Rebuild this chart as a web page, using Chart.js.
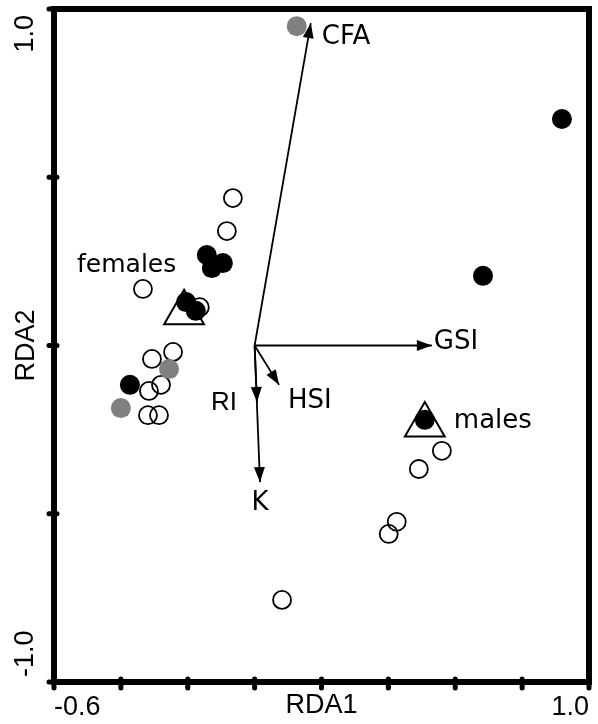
<!DOCTYPE html>
<html lang="en">
<head>
  <meta charset="UTF-8" />
  <title>RDA biplot</title>
  <script src="https://cdn.jsdelivr.net/npm/chart.js"></script>
  <style>
    body {
      margin: 0;
      background: #fff;
    }
    .chart-container {
      position: relative;
      width: 598px;
      height: 724px;
    }
  </style>
</head>
<body>
  <div class="chart-container">
    <canvas id="rdaChart"></canvas>
  </div>

  <script>
    // Site scores (RDA1, RDA2)
    const openX = [-0.065, -0.083, -0.334, -0.164, -0.244, -0.307, -0.280, -0.316, -0.319, -0.286, 0.560, 0.491, 0.425, 0.401, 0.082];
    const openY = [0.438, 0.340, 0.168, 0.114, -0.019, -0.040, -0.117, -0.135, -0.207, -0.207, -0.313, -0.367, -0.524, -0.560, -0.756];
    const grayX = [0.126, -0.256, -0.400];
    const grayY = [0.949, -0.070, -0.186];
    const blackX = [0.919, 0.683, 0.509, -0.143, -0.128, -0.095, -0.205, -0.176, -0.373];
    const blackY = [0.673, 0.207, -0.221, 0.269, 0.230, 0.245, 0.129, 0.103, -0.117];

    // Group centroids
    const groupNames = ['females', 'males'];
    const groupX = [-0.211, 0.509];
    const groupY = [0.097, -0.236];

    // Explanatory variables (arrows)
    const vectorNames = ['CFA', 'GSI', 'HSI', 'RI', 'K'];
    const vectorX = [0.168, 0.530, 0.073, 0.007, 0.016];
    const vectorY = [0.958, 0.0, -0.117, -0.168, -0.406];

    // Axis ticks
    const xTicks = [-0.6, -0.4, -0.2, 0, 0.2, 0.4, 0.6, 0.8, 1.0];
    const xTickLabels = ['-0.6', '', '', '', '', '', '', '', '1.0'];
    const yTicks = [-1.0, -0.5, 0, 0.5, 1.0];
    const yTickLabels = ['-1.0', '', '', '', '1.0'];

    // label placement (pixels from the arrow tip / centroid)
    const labelStyle = {
      CFA: { dx: 11, dy: 21, align: 'left', font: '26px "DejaVu Sans"' },
      GSI: { dx: 2, dy: 3, align: 'left', font: '26px "DejaVu Sans"' },
      HSI: { dx: 9, dy: 23, align: 'left', font: '26px "DejaVu Sans"' },
      RI: { dx: -20, dy: 8, align: 'right', font: '26px "Liberation Sans"' },
      K: { dx: 0, dy: 28, align: 'center', font: '26px "DejaVu Sans"' },
      females: { dx: -107, dy: -41, align: 'left', font: '25px "DejaVu Sans"' },
      males: { dx: 29, dy: 3, align: 'left', font: '26px "DejaVu Sans"' }
    };

    const toPoints = (xs, ys) => xs.map((x, i) => ({ x: x, y: ys[i] }));

    const datasets = [];
    vectorNames.forEach((name, i) => {
      datasets.push({
        label: name,
        isVector: true,
        data: [{ x: 0, y: 0 }, { x: vectorX[i], y: vectorY[i] }],
        showLine: true,
        borderColor: '#000',
        borderWidth: 1.8,
        pointRadius: 0,
        order: 10
      });
    });
    datasets.push({
      label: 'centroids',
      isGroup: true,
      data: toPoints(groupX, groupY),
      pointStyle: 'triangle',
      pointRadius: 23,
      borderWidth: 2,
      borderColor: '#000',
      backgroundColor: 'rgba(0,0,0,0)',
      order: 9
    });
    datasets.push({
      label: 'open',
      data: toPoints(openX, openY),
      pointRadius: 9,
      borderWidth: 1.8,
      borderColor: '#000',
      backgroundColor: 'rgba(0,0,0,0)',
      order: 8
    });
    datasets.push({
      label: 'gray',
      data: toPoints(grayX, grayY),
      pointRadius: 10,
      borderWidth: 0,
      backgroundColor: '#808080',
      order: 7
    });
    datasets.push({
      label: 'black',
      data: toPoints(blackX, blackY),
      pointRadius: 10,
      borderWidth: 0,
      backgroundColor: '#000',
      order: 6
    });

    const annotate = {
      id: 'annotate',
      afterDatasetsDraw(chart) {
        const ctx = chart.ctx;
        ctx.save();
        ctx.fillStyle = '#000';
        ctx.textBaseline = 'alphabetic';
        chart.data.datasets.forEach((ds, i) => {
          const pts = chart.getDatasetMeta(i).data;
          if (ds.isVector) {
            const a = pts[0], b = pts[1];
            const ang = Math.atan2(b.y - a.y, b.x - a.x);
            ctx.save();
            ctx.translate(b.x, b.y);
            ctx.rotate(ang);
            ctx.beginPath();
            ctx.moveTo(0, 0);
            ctx.lineTo(-15, -5.5);
            ctx.lineTo(-15, 5.5);
            ctx.closePath();
            ctx.fill();
            ctx.restore();
            const s = labelStyle[ds.label];
            ctx.font = s.font;
            ctx.textAlign = s.align;
            ctx.fillText(ds.label, b.x + s.dx, b.y + s.dy);
          } else if (ds.isGroup) {
            pts.forEach((p, j) => {
              const s = labelStyle[groupNames[j]];
              ctx.font = s.font;
              ctx.textAlign = s.align;
              ctx.fillText(groupNames[j], p.x + s.dx, p.y + s.dy);
            });
          }
        });
        ctx.restore();
      },
      afterDraw(chart) {
        const ctx = chart.ctx;
        const area = chart.chartArea;
        const xs = chart.scales.x, ys = chart.scales.y;
        ctx.save();
        ctx.strokeStyle = '#000';
        ctx.lineWidth = 6;
        ctx.strokeRect(area.left, area.top, area.right - area.left, area.bottom - area.top);
        // tick marks crossing the axis lines
        ctx.lineWidth = 5;
        ctx.lineCap = 'round';
        ctx.beginPath();
        xTicks.forEach(v => {
          const px = xs.getPixelForValue(v);
          ctx.moveTo(px, area.bottom - 3);
          ctx.lineTo(px, area.bottom + 6);
        });
        yTicks.forEach(v => {
          const py = ys.getPixelForValue(v);
          ctx.moveTo(area.left - 5, py);
          ctx.lineTo(area.left + 3, py);
        });
        ctx.stroke();
        // rotated y tick labels, pulled inside the axis ends
        ctx.fillStyle = '#000';
        ctx.font = '27px "Liberation Sans"';
        ctx.textBaseline = 'middle';
        yTicks.forEach((v, i) => {
          if (!yTickLabels[i]) return;
          const py = ys.getPixelForValue(v);
          ctx.save();
          ctx.translate(26, py);
          ctx.rotate(-Math.PI / 2);
          if (i === yTicks.length - 1) {
            ctx.textAlign = 'right';
            ctx.fillText(yTickLabels[i], -6, 0);
          } else {
            ctx.textAlign = 'left';
            ctx.fillText(yTickLabels[i], 5, 0);
          }
          ctx.restore();
        });
        ctx.restore();
      }
    };

    const axisFont = { family: 'Liberation Sans', size: 27 };

    new Chart(document.getElementById('rdaChart'), {
      type: 'scatter',
      data: { datasets: datasets },
      options: {
        responsive: true,
        maintainAspectRatio: false,
        animation: false,
        events: [],
        layout: { autoPadding: false, padding: { top: 9, right: 8, left: 0, bottom: 0 } },
        plugins: {
          legend: { display: false },
          tooltip: { enabled: false }
        },
        scales: {
          x: {
            type: 'linear',
            min: -0.6,
            max: 1.0,
            afterBuildTicks: scale => { scale.ticks = xTicks.map(v => ({ value: v })); },
            afterFit: scale => { scale.height = 42; },
            grid: { display: false, drawTicks: false },
            border: { display: false },
            ticks: {
              align: 'inner',
              autoSkip: false,
              maxRotation: 0,
              padding: 9,
              color: '#000',
              font: axisFont,
              callback: (v, i) => xTickLabels[i]
            },
            title: {
              display: true,
              text: 'RDA1',
              color: '#000',
              font: axisFont,
              padding: { top: 0, bottom: 2 }
            }
          },
          y: {
            type: 'linear',
            min: -1.0,
            max: 1.0,
            afterBuildTicks: scale => { scale.ticks = yTicks.map(v => ({ value: v })); },
            afterFit: scale => { scale.width = 54; },
            grid: { display: false, drawTicks: false },
            border: { display: false },
            ticks: { display: false },
            title: {
              display: true,
              text: 'RDA2',
              color: '#000',
              font: axisFont,
              padding: { top: 10, bottom: 0 }
            }
          }
        }
      },
      plugins: [annotate]
    });
  </script>
</body>
</html>
